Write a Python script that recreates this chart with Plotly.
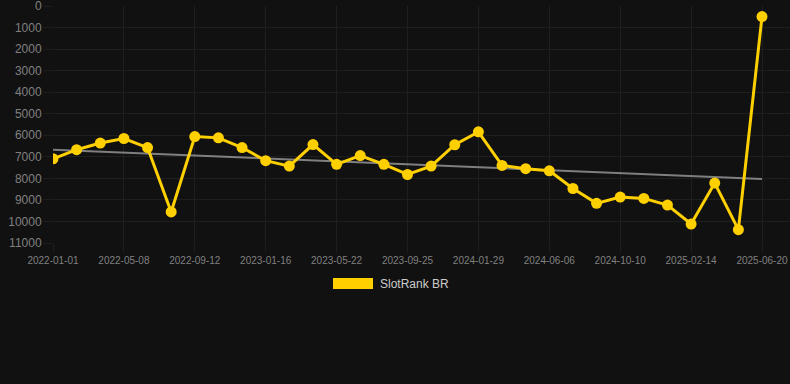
import numpy as np
import plotly.graph_objects as go

# ---- data ----
dates = [
    "2022-01-01", "2022-02-12", "2022-03-26", "2022-05-08", "2022-06-19", "2022-07-31",
    "2022-09-12", "2022-10-24", "2022-12-05", "2023-01-16", "2023-02-27", "2023-04-10",
    "2023-05-22", "2023-07-03", "2023-08-14", "2023-09-25", "2023-11-06", "2023-12-18",
    "2024-01-29", "2024-03-11", "2024-04-23", "2024-06-06", "2024-07-18", "2024-08-29",
    "2024-10-10", "2024-11-21", "2025-01-02", "2025-02-14", "2025-03-28", "2025-05-09",
    "2025-06-20",
]
ranks = [
    7090, 6670, 6360, 6150, 6570, 9560, 6060, 6120, 6570, 7180,
    7430, 6430, 7350, 6940, 7350, 7820, 7430, 6440, 5840, 7400,
    7550, 7650, 8470, 9160, 8870, 8930, 9240, 10120, 8220, 10380,
    490,
]
tick_labels = dates[::3]
y_ticks = list(range(0, 12000, 1000))
y_tick_text = [str(v) for v in y_ticks]
series_name = "SlotRank BR"

# trend line (least squares over the series)
idx = np.arange(len(ranks))
slope, intercept = np.polyfit(idx, ranks, 1)
trend = slope * idx + intercept

W, H = 790, 384
L, R, T, B = 53, 790, 6, 243
BG = "#111111"
GRID = "#1f1f1f"
YELLOW = "#FFD000"

fig = go.Figure()
fig.add_trace(go.Scatter(
    x=dates, y=trend, mode="lines",
    line=dict(color="rgba(140,140,140,0.9)", width=2),
    hoverinfo="skip", showlegend=False,
))
fig.add_trace(go.Scatter(
    x=dates, y=ranks, mode="lines+markers", name=series_name,
    line=dict(color=YELLOW, width=3),
    marker=dict(color=YELLOW, size=11),
    showlegend=False,
))

pw = R - L
ph = B - T
def px(x):
    return (x - L) / pw
def py(y):
    return (B - y) / ph

fig.add_shape(type="rect", xref="paper", yref="paper",
              x0=px(333), x1=px(373), y0=py(289), y1=py(278),
              fillcolor=YELLOW, line=dict(width=0))
fig.add_annotation(xref="paper", yref="paper", x=px(378), y=py(284),
                   text=series_name, showarrow=False, xanchor="left", yanchor="middle",
                   font=dict(size=12, color="#cccccc", family="Liberation Sans, Arial, sans-serif"))

fig.update_layout(
    width=W, height=H,
    margin=dict(l=L, r=W - R, t=T, b=H - B, pad=0),
    paper_bgcolor=BG, plot_bgcolor=BG,
    font=dict(family="Liberation Sans, Arial, sans-serif"),
    hovermode=False,
    xaxis=dict(
        type="category",
        range=[0, (len(dates) - 1) * (R - L) / (762 - L)],
        tickmode="array", tickvals=tick_labels, ticktext=tick_labels,
        showgrid=True, gridcolor=GRID, gridwidth=1,
        ticks="outside", ticklen=8, tickcolor=GRID,
        tickfont=dict(size=10, color="#808080"),
        ticklabeloverflow="allow",
        zeroline=False, showline=False,
    ),
    yaxis=dict(
        range=[11000, -1],
        tickmode="array", tickvals=y_ticks, ticktext=y_tick_text,
        showgrid=True, gridcolor=GRID, gridwidth=1,
        ticks="outside", ticklen=8, tickcolor=GRID,
        tickfont=dict(size=12, color="#808080"),
        ticklabeloverflow="allow",
        zeroline=False, showline=False,
    ),
)

fig.write_html(
    "out.html",
    config={"displayModeBar": False, "staticPlot": True},
    post_script="document.body.style.margin='0';document.body.style.background='#111111';",
)
